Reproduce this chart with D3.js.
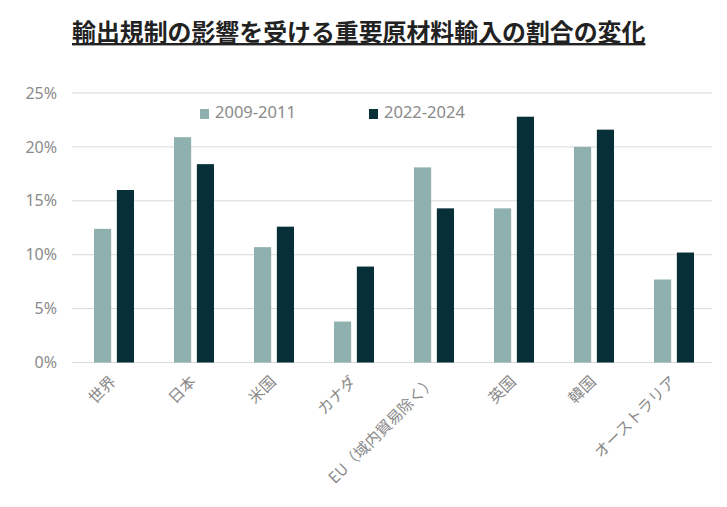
<!DOCTYPE html>
<html>
<head>
<meta charset="utf-8">
<script src="https://cdn.jsdelivr.net/npm/d3@7"></script>
<style>
  body { margin: 0; background: #fff; }
  text { font-family: "Noto Sans CJK JP", "Noto Sans", sans-serif; }
</style>
</head>
<body>
<div id="chart"></div>
<script>
const categories = ["世界", "日本", "米国", "カナダ", "EU（域内貿易除く）", "英国", "韓国", "オーストラリア"];
const seriesNames = ["2009-2011", "2022-2024"];
const values2009 = [12.4, 20.9, 10.7, 3.8, 18.1, 14.3, 20.0, 7.7];
const values2022 = [16.0, 18.4, 12.6, 8.9, 14.3, 22.8, 21.6, 10.2];
const yTicks = [0, 5, 10, 15, 20, 25];

const width = 727, height = 507;
const colors = ["#8eb1af", "#062f37"];
const margin = { left: 72, right: 15, top: 93, bottom: 145 };

const svg = d3.select("#chart").append("svg")
    .attr("width", width)
    .attr("height", height)
    .style("background-color", "white");

// title
svg.append("text")
    .attr("x", 72)
    .attr("y", 41)
    .attr("font-size", "23.9px")
    .attr("font-weight", 700)
    .attr("fill", "#222")
    .attr("text-decoration", "underline")
    .text("輸出規制の影響を受ける重要原材料輸入の割合の変化");

const x = d3.scaleBand()
    .domain(categories)
    .range([margin.left, width - margin.right]);

const y = d3.scaleLinear()
    .domain([0, 25])
    .range([height - margin.bottom + 0.5, margin.top]);

// gridlines
svg.append("g").selectAll("line")
    .data(yTicks)
    .enter().append("line")
    .attr("x1", margin.left)
    .attr("x2", width - margin.right)
    .attr("y1", d => y(d))
    .attr("y2", d => y(d))
    .attr("stroke", "#d9d9d9")
    .attr("stroke-width", 1);

// y axis labels
const yAxis = d3.axisLeft(y).tickValues(yTicks).tickFormat(d => d + "%").tickSize(0).tickPadding(15);
const yG = svg.append("g").attr("transform", `translate(${margin.left},0)`).call(yAxis);
yG.select(".domain").remove();
yG.selectAll("text")
    .attr("font-size", "16px")
    .attr("fill", "#8a8a8a")
    .style("font-family", "'Noto Sans', sans-serif");

// bars
const xInner = d3.scaleBand()
    .domain([0, 1])
    .range([22, 62])
    .paddingInner(0.25);

const data = categories.map((c, i) => ({ cat: c, vals: [values2009[i], values2022[i]] }));

const groups = svg.append("g").selectAll("g")
    .data(data)
    .enter().append("g")
    .attr("transform", d => `translate(${x(d.cat)},0)`);

groups.selectAll("rect")
    .data(d => d.vals)
    .enter().append("rect")
    .attr("x", (d, i) => xInner(i))
    .attr("width", xInner.bandwidth())
    .attr("y", d => y(d))
    .attr("height", d => y(0) - y(d))
    .attr("fill", (d, i) => colors[i]);

// x labels
svg.append("g").selectAll("text")
    .data(categories)
    .enter().append("text")
    .attr("text-anchor", "end")
    .attr("font-size", "15.5px")
    .attr("fill", "#8a8a8a")
    .attr("transform", d => `translate(${x(d) + x.bandwidth() / 2 + 5},${y(0) + 20}) rotate(-45)`)
    .text(d => d);

// legend
const legendX = [200, 369];
const legend = svg.append("g").selectAll("g")
    .data(seriesNames)
    .enter().append("g")
    .attr("transform", (d, i) => `translate(${legendX[i]},108)`);
legend.append("rect")
    .attr("width", 9)
    .attr("height", 10)
    .attr("y", 1)
    .attr("fill", (d, i) => colors[i]);
legend.append("text")
    .attr("x", 15)
    .attr("y", 10)
    .attr("font-size", "16.5px")
    .attr("fill", "#8a8a8a")
    .style("font-family", "'Noto Sans', sans-serif")
    .text(d => d);
</script>
</body>
</html>
